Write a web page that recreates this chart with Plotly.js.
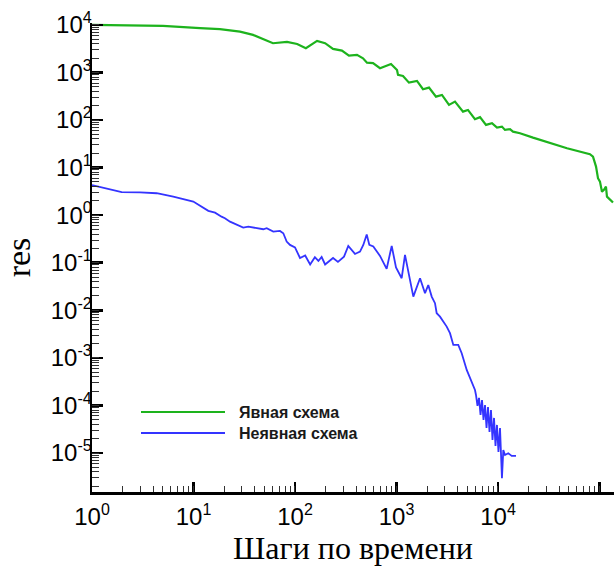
<!DOCTYPE html>
<html>
<head>
<meta charset="utf-8">
<script src="https://cdn.plot.ly/plotly-3.0.1.min.js"></script>
<style>html,body{margin:0;padding:0;background:#fff;}#chart{width:614px;height:567px;}</style>
</head>
<body>
<div id="chart"></div>
<script>
// Explicit scheme (Явная схема)
const explicitSteps = [1, 2, 5, 11.6, 18.2, 28.7, 38.6, 60.7, 83.4, 105, 128, 165, 198, 237, 290, 340, 408, 468, 512, 587, 688, 883, 1012, 1035, 1159, 1327, 1592, 1824, 2091, 2449, 2806, 3290, 3770, 4520, 5060, 5930, 6650, 7620, 8730, 9770, 10940, 11720, 13130, 14060, 16480, 22130, 47860, 80540, 86300, 92450, 96640, 101100, 105800, 110700, 115800, 118500, 126900, 135900];
const explicitRes = [10000, 9900, 9500, 8530, 8130, 7230, 6170, 4120, 4400, 3980, 3240, 4610, 4120, 3130, 2880, 2260, 2340, 1990, 1610, 1570, 1230, 1510, 1130, 889, 847, 612, 665, 445, 481, 310, 337, 208, 244, 150, 163, 104, 115, 78.9, 85.7, 69.3, 72.7, 62, 64.1, 57.1, 52.9, 42.7, 25.5, 19.1, 17.0, 10.5, 5.98, 5.07, 3.12, 3.40, 3.98, 2.45, 2.09, 1.84];

// Implicit scheme (Неявная схема)
const implicitSteps = [1, 1.96, 2.97, 4.34, 6.32, 7.94, 9.95, 14.0, 16.3, 18.9, 20.4, 22.9, 30.9, 34.7, 48.7, 52.6, 61.1, 71.1, 76.7, 82.8, 89.3, 100, 112, 126, 141, 157, 170, 183, 198, 237, 265, 304, 335, 390, 437, 471, 509, 540, 591, 688, 800, 897, 989, 1125, 1213, 1358, 1465, 1706, 1910, 2057, 2223, 2395, 2489, 2683, 3124, 3366, 3630, 4060, 4390, 4920, 5510, 5935, 6070, 6280, 6500, 6730, 6960, 7200, 7450, 7710, 7970, 8250, 8530, 8830, 9140, 9450, 9770, 10110, 10470, 10710, 10940, 11280, 11720, 12630, 13650, 15040];
const implicitRes = [4.3, 3.04, 3.0, 2.89, 2.45, 2.16, 1.93, 1.23, 1.13, 0.93, 0.86, 0.73, 0.547, 0.574, 0.506, 0.531, 0.451, 0.467, 0.417, 0.278, 0.237, 0.210, 0.126, 0.142, 0.092, 0.131, 0.109, 0.132, 0.092, 0.126, 0.104, 0.134, 0.226, 0.153, 0.171, 0.237, 0.394, 0.237, 0.220, 0.139, 0.0741, 0.226, 0.0796, 0.0472, 0.146, 0.0435, 0.0194, 0.0472, 0.0229, 0.0341, 0.0194, 0.0141, 0.00867, 0.00736, 0.00454, 0.00330, 0.00187, 0.00187, 0.00125, 0.000557, 0.000292, 0.000211, 1.66e-4, 9.75e-5, 1.44e-4, 6.31e-5, 1.30e-4, 4.95e-5, 1.02e-4, 3.36e-5, 9.29e-5, 2.77e-5, 8.04e-5, 1.88e-5, 5.46e-5, 1.41e-5, 3.89e-5, 1.05e-5, 3.36e-5, 6.49e-6, 2.94e-6, 1.16e-5, 9.1e-6, 9.9e-6, 8.7e-6, 8.7e-6];

const seriesNames = ["Явная схема", "Неявная схема"];
const xTickVals = [1, 10, 100, 1000, 10000, 100000];
const xTickExp = ["0", "1", "2", "3", "4", "5"];
const yTickVals = [1e-5, 1e-4, 1e-3, 1e-2, 1e-1, 1, 10, 100, 1000, 10000];
const yTickExp = ["-5", "-4", "-3", "-2", "-1", "0", "1", "2", "3", "4"];
const xTitle = "Шаги по времени";
const yTitle = "res";

function powLabel(e) { return "10<sup><span style='font-size:16px'>" + e + "</span></sup>"; }

const greenColor = "#1db31d";
const blueColor = "#3434ff";

const traces = [
  {x: explicitSteps, y: explicitRes, type: "scatter", mode: "lines", name: seriesNames[0],
   line: {color: greenColor, width: 2.2}, showlegend: false},
  {x: implicitSteps, y: implicitRes, type: "scatter", mode: "lines", name: seriesNames[1],
   line: {color: blueColor, width: 1.8}, showlegend: false},
  // empty trace that carries the minor-tick overlay axes
  {x: [], y: [], type: "scatter", mode: "lines", xaxis: "x2", yaxis: "y2", showlegend: false, hoverinfo: "skip"}
];

const L = 92, T = 23, W = 522, H = 469;
function px2paperX(p){ return (p - L) / W; }
function px2paperY(p){ return (T + H - p) / H; }

const legendRows = [
  {name: seriesNames[0], color: greenColor, y: 412},
  {name: seriesNames[1], color: blueColor, y: 433}
];
const shapes = legendRows.map(r => ({
  type: "line", xref: "paper", yref: "paper",
  x0: px2paperX(141), x1: px2paperX(225), y0: px2paperY(r.y), y1: px2paperY(r.y),
  line: {color: r.color, width: 2}
}));
const annotations = legendRows.map(r => ({
  xref: "paper", yref: "paper", x: px2paperX(237), y: px2paperY(r.y),
  xanchor: "left", yanchor: "middle", showarrow: false, text: "<b>" + r.name + "</b>",
  font: {family: "Liberation Sans, Arial, sans-serif", size: 16, color: "#1a1a1a"}
}));

const XR = [0, 5.143], YR = [-5.82, 4.04];
const tickFont = {family: "Liberation Sans, Arial, sans-serif", size: 24, color: "#000"};
const layout = {
  width: 614, height: 567,
  margin: {l: L, r: 0, t: T, b: 567 - T - H, pad: 0},
  paper_bgcolor: "#fff", plot_bgcolor: "#fff",
  showlegend: false,
  xaxis: {
    type: "log", range: XR, showgrid: false, zeroline: false,
    showline: true, linecolor: "#000", linewidth: 2.5, mirror: false,
    tickmode: "array", tickvals: xTickVals, ticktext: xTickExp.map(powLabel),
    ticks: "inside", ticklen: 10, tickwidth: 2.5, tickcolor: "#000",
    tickfont: tickFont, ticklabelstandoff: 2,
    title: {text: xTitle, font: {family: "Liberation Serif, Times New Roman, serif", size: 32, color: "#000"}, standoff: 6}
  },
  yaxis: {
    type: "log", range: YR, showgrid: false, zeroline: false,
    showline: true, linecolor: "#000", linewidth: 2.5, mirror: false,
    tickmode: "array", tickvals: yTickVals, ticktext: yTickExp.map(powLabel),
    ticks: "inside", ticklen: 11, tickwidth: 2.5, tickcolor: "#000",
    tickfont: tickFont, ticklabelstandoff: -7,
    title: {text: yTitle, font: {family: "Liberation Serif, Times New Roman, serif", size: 34, color: "#000"}, standoff: 22}
  },
  xaxis2: {
    type: "log", range: XR, overlaying: "x", anchor: "y", side: "bottom",
    showgrid: false, zeroline: false, showline: false, showticklabels: false,
    tickmode: "linear", tick0: 0, dtick: "D1",
    ticks: "inside", ticklen: 6, tickwidth: 1, tickcolor: "#333"
  },
  yaxis2: {
    type: "log", range: YR, overlaying: "y", anchor: "x", side: "left",
    showgrid: false, zeroline: false, showline: false, showticklabels: false,
    tickmode: "linear", tick0: 0, dtick: "D1",
    ticks: "inside", ticklen: 7, tickwidth: 1, tickcolor: "#333"
  },
  shapes: shapes,
  annotations: annotations
};

Plotly.newPlot("chart", traces, layout, {displayModeBar: false, staticPlot: true});
</script>
</body>
</html>
